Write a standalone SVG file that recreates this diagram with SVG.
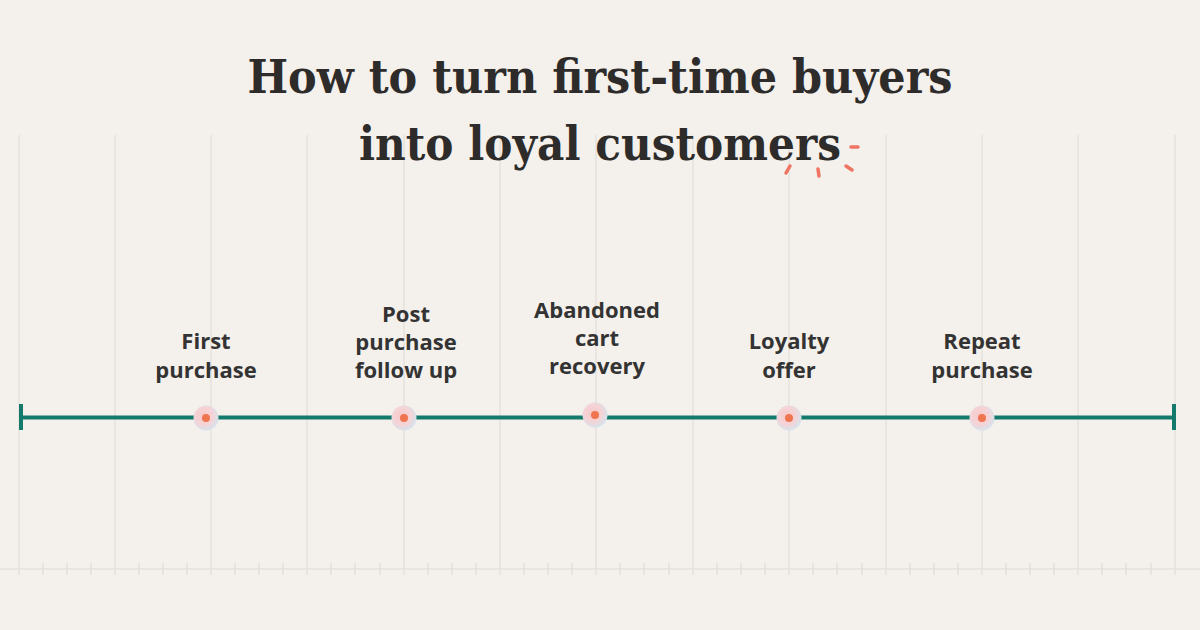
<svg xmlns="http://www.w3.org/2000/svg" width="1200" height="630" viewBox="0 0 1200 630">
<defs>
<style>
.grid{stroke:#e6e2dc;stroke-width:1.5}
.tick{stroke:#e3dfd9;stroke-width:1.5}
.title{font-family:"DejaVu Serif","Liberation Serif",serif;font-weight:bold;font-size:47px;fill:#2e2c2b;text-anchor:middle}
.lbl{font-family:"Open Sans","Liberation Sans",sans-serif;font-weight:bold;font-size:22px;fill:#333333;text-anchor:middle}
.spark{stroke:#f07462;stroke-width:3.5;stroke-linecap:round;fill:none}
</style>
<radialGradient id="halo" cx="0.42" cy="0.42" r="0.62">
<stop offset="0" stop-color="#f8c9c8"/>
<stop offset="0.55" stop-color="#f5d3d6"/>
<stop offset="1" stop-color="#d3e4ee"/>
</radialGradient>
</defs>
<rect width="1200" height="630" fill="#f4f0eb"/>
<g id="grid">
<line class="grid" x1="19" y1="135" x2="19" y2="575"/>
<line class="grid" x1="115" y1="135" x2="115" y2="575"/>
<line class="grid" x1="211" y1="135" x2="211" y2="575"/>
<line class="grid" x1="307" y1="135" x2="307" y2="575"/>
<line class="grid" x1="404" y1="135" x2="404" y2="575"/>
<line class="grid" x1="500" y1="135" x2="500" y2="575"/>
<line class="grid" x1="596" y1="135" x2="596" y2="575"/>
<line class="grid" x1="693" y1="135" x2="693" y2="575"/>
<line class="grid" x1="789" y1="135" x2="789" y2="575"/>
<line class="grid" x1="886" y1="135" x2="886" y2="575"/>
<line class="grid" x1="982" y1="135" x2="982" y2="575"/>
<line class="grid" x1="1078" y1="135" x2="1078" y2="575"/>
<line class="grid" x1="1175" y1="135" x2="1175" y2="575"/>
<line class="grid" x1="0" y1="569" x2="1200" y2="569"/>
<g class="tick">
<line x1="43" y1="563" x2="43" y2="575"/><line x1="67" y1="563" x2="67" y2="575"/><line x1="91" y1="563" x2="91" y2="575"/>
<line x1="139" y1="563" x2="139" y2="575"/><line x1="163" y1="563" x2="163" y2="575"/><line x1="187" y1="563" x2="187" y2="575"/>
<line x1="235" y1="563" x2="235" y2="575"/><line x1="259" y1="563" x2="259" y2="575"/><line x1="283" y1="563" x2="283" y2="575"/>
<line x1="331" y1="563" x2="331" y2="575"/><line x1="355" y1="563" x2="355" y2="575"/><line x1="380" y1="563" x2="380" y2="575"/>
<line x1="428" y1="563" x2="428" y2="575"/><line x1="452" y1="563" x2="452" y2="575"/><line x1="476" y1="563" x2="476" y2="575"/>
<line x1="524" y1="563" x2="524" y2="575"/><line x1="548" y1="563" x2="548" y2="575"/><line x1="572" y1="563" x2="572" y2="575"/>
<line x1="620" y1="563" x2="620" y2="575"/><line x1="644" y1="563" x2="644" y2="575"/><line x1="669" y1="563" x2="669" y2="575"/>
<line x1="717" y1="563" x2="717" y2="575"/><line x1="741" y1="563" x2="741" y2="575"/><line x1="765" y1="563" x2="765" y2="575"/>
<line x1="813" y1="563" x2="813" y2="575"/><line x1="837" y1="563" x2="837" y2="575"/><line x1="862" y1="563" x2="862" y2="575"/>
<line x1="910" y1="563" x2="910" y2="575"/><line x1="934" y1="563" x2="934" y2="575"/><line x1="958" y1="563" x2="958" y2="575"/>
<line x1="1006" y1="563" x2="1006" y2="575"/><line x1="1030" y1="563" x2="1030" y2="575"/><line x1="1054" y1="563" x2="1054" y2="575"/>
<line x1="1102" y1="563" x2="1102" y2="575"/><line x1="1126" y1="563" x2="1126" y2="575"/><line x1="1151" y1="563" x2="1151" y2="575"/>
</g>
</g>
<g id="title">
<text class="title" x="600" y="93" textLength="705" lengthAdjust="spacingAndGlyphs">How to turn first-time buyers</text>
<text class="title" x="600" y="160" textLength="482" lengthAdjust="spacingAndGlyphs">into loyal customers</text>
<path class="spark" d="M786 173 L790 166"/>
<path class="spark" d="M818 169 L819 176"/>
<path class="spark" d="M846 166 L852 170"/>
<path class="spark" d="M851 147 L858 147"/>
</g>
<g id="connectors">
<line x1="21" y1="417.5" x2="1174" y2="417.5" stroke="#147a6c" stroke-width="4"/>
<line x1="21" y1="404" x2="21" y2="430" stroke="#147a6c" stroke-width="4"/>
<line x1="1174" y1="404" x2="1174" y2="430" stroke="#147a6c" stroke-width="4"/>
</g>
<g id="node1">
<circle cx="206" cy="418" r="12.5" fill="url(#halo)"/><circle cx="206" cy="418" r="4" fill="#ef7550"/>
<text class="lbl" x="206" y="349">First</text><text class="lbl" x="206" y="378">purchase</text>
</g>
<g id="node2">
<circle cx="404" cy="418" r="12.5" fill="url(#halo)"/><circle cx="404" cy="418" r="4" fill="#ef7550"/>
<text class="lbl" x="406" y="322">Post</text><text class="lbl" x="406" y="350">purchase</text><text class="lbl" x="406" y="378">follow up</text>
</g>
<g id="node3">
<circle cx="595" cy="415" r="12.5" fill="url(#halo)"/><circle cx="595" cy="415" r="4" fill="#ef7550"/>
<text class="lbl" x="597" y="318">Abandoned</text><text class="lbl" x="597" y="346">cart</text><text class="lbl" x="597" y="374">recovery</text>
</g>
<g id="node4">
<circle cx="789" cy="418" r="12.5" fill="url(#halo)"/><circle cx="789" cy="418" r="4" fill="#ef7550"/>
<text class="lbl" x="789" y="349">Loyalty</text><text class="lbl" x="789" y="378">offer</text>
</g>
<g id="node5">
<circle cx="982" cy="418" r="12.5" fill="url(#halo)"/><circle cx="982" cy="418" r="4" fill="#ef7550"/>
<text class="lbl" x="982" y="349">Repeat</text><text class="lbl" x="982" y="378">purchase</text>
</g>
</svg>
